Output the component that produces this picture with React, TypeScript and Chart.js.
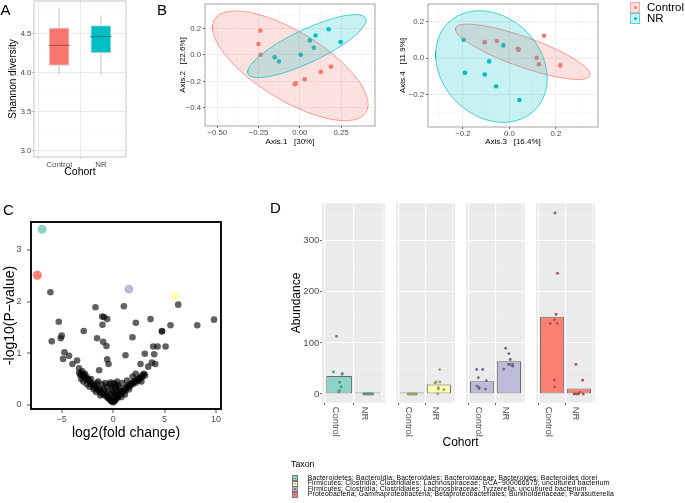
import React, { useEffect, useRef } from "react";
import { Chart, registerables } from "chart.js";

Chart.register(...registerables);

const FONT = '"Liberation Sans", Arial, Helvetica, sans-serif';
const GREY30 = "#4D4D4D";
Chart.defaults.font.family = FONT;
Chart.defaults.color = GREY30;

// ---------------- Panel A : Shannon diversity ----------------
const A_COHORTS = ["Control", "NR"];
const A_WHISKER_LOW = [3.98, 3.98];
const A_Q1 = [4.09, 4.25];
const A_MEDIAN = [4.35, 4.465];
const A_Q3 = [4.58, 4.61];
const A_WHISKER_HIGH = [4.83, 4.73];
const A_Y_MAJOR = [3.0, 3.5, 4.0, 4.5];
const A_Y_MINOR = [3.25, 3.75, 4.25, 4.75];
const A_FILL = ["#F8766D", "#00BFC4"];
const A_MEDIAN_COLOR = ["#B4524B", "#00888C"];

// ---------------- Panel B : PCoA ----------------
const B_GROUPS = ["Control", "NR"];
const B_COLORS = ["#F8766D", "#00BFC4"];
const B_FILLS = ["rgba(248,118,109,0.22)", "rgba(0,191,196,0.22)"];
const B1_CONTROL_X = [-0.238, -0.25, -0.238, -0.03, -0.024, 0.03, 0.128, 0.189];
const B1_CONTROL_Y = [0.184, 0.083, 0.002, -0.221, -0.214, -0.184, -0.128, -0.088];
const B1_NR_X = [-0.152, -0.126, 0.006, 0.061, 0.085, 0.096, 0.175, 0.248];
const B1_NR_Y = [-0.017, -0.049, 0.002, 0.11, 0.054, 0.147, 0.194, 0.098];
const B2_CONTROL_X = [0.149, -0.106, -0.054, 0.036, 0.117, 0.127, 0.219, 0.04];
const B2_CONTROL_Y = [0.123, 0.088, 0.094, 0.052, 0.002, -0.034, -0.04, 0.048];
const B2_NR_X = [-0.197, -0.026, 0.039, -0.087, -0.191, -0.106, -0.057, 0.043];
const B2_NR_Y = [0.101, 0.07, 0.047, -0.018, -0.081, -0.09, -0.155, -0.231];
const B1_X_MAJOR = [-0.5, -0.25, 0, 0.25];
const B1_X_MINOR = [-0.375, -0.125, 0.125, 0.375];
const B1_Y_MAJOR = [-0.4, -0.2, 0, 0.2];
const B1_Y_MINOR = [-0.5, -0.3, -0.1, 0.1, 0.3];
const B2_X_MAJOR = [-0.2, 0, 0.2];
const B2_X_MINOR = [-0.3, -0.1, 0.1, 0.3];
const B2_Y_MAJOR = [-0.2, 0, 0.2];
const B2_Y_MINOR = [-0.3, -0.1, 0.1];

// ---------------- Panel C : volcano ----------------
const C_UPPER_FC = [-6.1, -1.72, 1.04, 6.33, -5.29, -1.07, -0.88, -0.58, -1.04, 2.21,
  3.64, 5.58, 8.18, 9.81, -5.0, -5.1, -2.86, -5.97, -1.56, -0.97,
  -0.65, 1.88, 4.74, 4.76, 3.9, 4.32, 5.1, -4.74, -4.29, -4.87,
  1.2, 3.08, 3.99, -3.51, -0.58, -3.96, -0.45, 2.66, 3.77, 4.09,
  -3.31, -1.36, 3.41];
const C_UPPER_P = [2.18, 1.89, 1.91, 1.94, 1.61, 1.71, 1.7, 1.66, 1.55, 1.59,
  1.66, 1.54, 1.54, 1.65, 1.34, 1.29, 1.43, 1.23, 1.29, 1.22,
  1.14, 1.31, 1.43, 1.42, 1.13, 1.13, 1.13, 1.02, 0.95, 0.89,
  0.96, 0.99, 0.98, 0.86, 0.88, 0.79, 0.79, 0.79, 0.82, 0.79,
  0.71, 0.67, 0.74];
const C_LEFT_FC = [-3.3, -3.2, -3.05, -2.95, -2.85, -2.7, -2.6, -2.5, -2.4, -2.3,
  -2.2, -2.15, -2.0, -1.95, -1.8, -1.7, -1.6, -1.5, -1.4, -1.3,
  -1.2, -1.1, -1.0, -0.9, -0.8, -0.7, -0.6, -0.5, -0.4, -0.3,
  -0.2, -0.1, -2.55, -2.9, -3.1, -1.9, -2.3, -3.0, -2.75, -1.65,
  -1.25, -0.85, -0.45, -0.35, -0.25, -0.15, -0.6, -0.75, -0.2, -1.45,
  -1.05];
const C_LEFT_P = [0.62, 0.58, 0.6, 0.55, 0.57, 0.52, 0.55, 0.48, 0.5, 0.46,
  0.42, 0.5, 0.4, 0.36, 0.38, 0.33, 0.42, 0.3, 0.28, 0.32,
  0.25, 0.22, 0.27, 0.2, 0.18, 0.22, 0.15, 0.14, 0.12, 0.1,
  0.08, 0.06, 0.4, 0.45, 0.5, 0.3, 0.35, 0.65, 0.6, 0.25,
  0.18, 0.3, 0.25, 0.4, 0.43, 0.3, 0.35, 0.42, 0.2, 0.45,
  0.4];
const C_RIGHT_FC = [0.0, 0.1, 0.2, 0.3, 0.4, 0.5, 0.6, 0.7, 0.8, 0.9,
  1.0, 1.1, 1.2, 1.3, 1.4, 1.5, 1.6, 1.7, 1.8, 1.9,
  2.0, 2.1, 2.2, 2.3, 2.4, 2.5, 2.6, 2.7, 2.8, 2.9,
  3.0, 3.1, 0.15, 0.3, 0.45, 0.25, 0.05, 0.6, 0.9, 1.35,
  1.9, 2.2, 0.35, 0.55, 0.8, 1.15, 0.0, 0.1, -0.05, 0.2,
  0.4, 2.75, 1.55];
const C_RIGHT_P = [0.05, 0.07, 0.09, 0.12, 0.14, 0.16, 0.19, 0.22, 0.25, 0.23,
  0.27, 0.3, 0.28, 0.33, 0.35, 0.38, 0.36, 0.4, 0.42, 0.4,
  0.44, 0.46, 0.43, 0.48, 0.5, 0.47, 0.52, 0.55, 0.53, 0.58,
  0.6, 0.57, 0.2, 0.28, 0.38, 0.4, 0.42, 0.33, 0.42, 0.47,
  0.55, 0.6, 0.2, 0.27, 0.15, 0.2, 0.15, 0.25, 0.35, 0.33,
  0.45, 0.45, 0.3];
const C_HL_FC = [-6.92, -7.37, 1.53, 6.0];
const C_HL_P = [3.4, 2.51, 2.24, 2.1];
const C_HL_COLORS = ["#8DD3C7", "#FB8072", "#BEBADA", "#FFFFB3"];
const C_X_MAJOR = [-5, 0, 5, 10];
const C_Y_MAJOR = [0, 1, 2, 3];

// ---------------- Panel D : taxa abundance ----------------
const D_COHORTS = ["Control", "NR"];
const D_TAXA = [
  "Bacteroidetes; Bacteroidia; Bacteroidales; Bacteroidaceae; Bacteroides; Bacteroides dorei",
  "Firmicutes; Clostridia; Clostridiales; Lachnospiraceae; GCA\u2212900066575; uncultured bacterium",
  "Firmicutes; Clostridia; Clostridiales; Lachnospiraceae; Tyzzerella; uncultured bacterium",
  "Proteobacteria; Gammaproteobacteria; Betaproteobacteriales; Burkholderiaceae; Parasutterella",
];
const D_COLORS = ["#8DD3C7", "#FFFFB3", "#BEBADA", "#FB8072"];
const D_DOT_COLORS = ["#5F8F87", "#9E9C6E", "#6C6985", "#A9514B"];
const D_MEAN_CONTROL = [35, 0.3, 25, 151];
const D_MEAN_NR = [0.5, 18.5, 64, 11];
const D_CONTROL_VALUES = [
  [113, 43, 40, 38.6, 23, 14, 6.5, 4],
  [0, 0, 0, 0, 0, 0, 0, 0],
  [48, 48, 32, 26, 15.6, 13, 10.4, 9.7],
  [354, 236, 156, 145, 138, 138, 27, 14],
];
const D_CONTROL_JITTER = [
  [-0.09, -0.2, 0.11, 0.1, 0.02, 0.07, 0.01, -0.02],
  [-0.15, -0.1, -0.05, 0, 0.04, 0.08, 0.12, 0.16],
  [-0.2, 0.02, -0.14, 0.16, -0.19, -0.12, -0.11, 0.13],
  [0.11, 0.2, 0.15, 0.09, -0.07, 0.19, 0.09, 0.09],
];
const D_NR_VALUES = [
  [0, 0, 0, 0, 0, 0, 0, 0],
  [47.7, 23.5, 23.5, 21.6, 12.4, 9.8, 8.5, 0.5],
  [89.6, 79, 67.5, 57.8, 57.8, 57.8, 54.5, 48.7],
  [58, 27, 3, 0.5, 0, 0, 0, 0],
];
const D_NR_JITTER = [
  [-0.14, -0.09, -0.04, 0.01, 0.05, 0.09, 0.13, 0.17],
  [0.03, 0.04, -0.1, -0.15, -0.02, -0.02, 0.18, -0.04],
  [-0.12, 0, 0.05, -0.02, 0.05, 0.14, 0.14, -0.19],
  [-0.11, 0.14, 0.03, -0.15, -0.08, 0.16, -0.02, -0.18],
];
const D_Y_MAJOR = [0, 100, 200, 300];
const D_Y_MINOR = [50, 150, 250, 350];

// ---------------- helpers ----------------
const near = (arr: number[], v: number) => v !== undefined && arr.some((a) => Math.abs(a - v) < 1e-7);
const fmtNum = (v: number, d: number) => (v < -1e-9 ? "\u2212" : "") + Math.abs(v).toFixed(d);

const panelPlugin = {
  id: "panel",
  beforeDraw(chart: any, _a: any, opts: any) {
    if (!opts || !opts.bg) return;
    const { ctx, chartArea: a } = chart;
    ctx.save();
    ctx.fillStyle = opts.bg;
    ctx.fillRect(a.left, a.top, a.right - a.left, a.bottom - a.top);
    ctx.restore();
  },
  afterDatasetsDraw(chart: any, _a: any, opts: any) {
    if (!opts || !opts.border) return;
    const { ctx, chartArea: a } = chart;
    ctx.save();
    ctx.strokeStyle = opts.border;
    ctx.lineWidth = opts.borderWidth || 1;
    ctx.strokeRect(a.left, a.top, a.right - a.left, a.bottom - a.top);
    ctx.restore();
  },
};
Chart.register(panelPlugin);

function linAxis(o: any) {
  const minor: number[] = o.minor || [];
  const all = [...o.major, ...minor].sort((a, b) => a - b);
  const g = o.grid;
  return {
    type: "linear",
    min: o.min,
    max: o.max,
    offset: false,
    afterBuildTicks: (s: any) => {
      s.ticks = all.map((v) => ({ value: v }));
    },
    afterFit: (s: any) => {
      if (o.horizontal) s.height = o.fit;
      else s.width = o.fit;
      s.paddingLeft = 0;
      s.paddingRight = 0;
      s.paddingTop = 0;
      s.paddingBottom = 0;
    },
    ticks: {
      autoSkip: false,
      maxRotation: 0,
      minRotation: 0,
      padding: o.pad,
      color: GREY30,
      font: { size: o.fontSize, family: FONT },
      callback: (v: number) => (near(o.major, v) ? o.fmt(v) : ""),
    },
    grid: {
      drawOnChartArea: !!g,
      drawTicks: o.tickLen > 0,
      tickLength: o.tickLen,
      color: (c: any) => (g ? (near(o.major, c.tick && c.tick.value) ? g.major : g.minor) : "rgba(0,0,0,0)"),
      lineWidth: (c: any) => (g ? (near(o.major, c.tick && c.tick.value) ? g.majorW : g.minorW) : 0),
      tickColor: (c: any) => (near(o.major, c.tick && c.tick.value) ? o.tickColor || "#333333" : "rgba(0,0,0,0)"),
      tickWidth: 0.8,
    },
    border: { display: false },
    title: o.title
      ? { display: true, text: o.title.text, color: "#000", font: { size: o.title.size, family: FONT }, padding: o.title.pad }
      : { display: false },
  };
}

function base(pad: any, panel: any) {
  return {
    responsive: false,
    animation: false,
    devicePixelRatio: 1,
    events: [],
    layout: { padding: pad },
    plugins: { legend: { display: false }, tooltip: { enabled: false }, panel },
  };
}

function covTrob(xs: number[], ys: number[]) {
  const n = xs.length;
  const p = 2;
  const nu = 5;
  let w = xs.map(() => 1);
  let lx = xs.reduce((s, v) => s + v, 0) / n;
  let ly = ys.reduce((s, v) => s + v, 0) / n;
  let X = xs.map((v, i) => [v - lx, ys[i] - ly]);
  for (let iter = 0; iter < 25; iter++) {
    const w0 = w.slice();
    X = xs.map((v, i) => [v - lx, ys[i] - ly]);
    const sw = w.reduce((s, v) => s + v, 0);
    let a = 0, b = 0, c = 0;
    X.forEach(([dx, dy], i) => {
      a += (w[i] * dx * dx) / sw;
      b += (w[i] * dx * dy) / sw;
      c += (w[i] * dy * dy) / sw;
    });
    const det = a * c - b * b;
    const Q = X.map(([dx, dy]) => (c * dx * dx - 2 * b * dx * dy + a * dy * dy) / det);
    w = Q.map((q) => (nu + p) / (nu + q));
    const sw2 = w.reduce((s, v) => s + v, 0);
    lx = xs.reduce((s, v, i) => s + w[i] * v, 0) / sw2;
    ly = ys.reduce((s, v, i) => s + w[i] * v, 0) / sw2;
    if (w.every((v, i) => Math.abs(v - w0[i]) < 0.01)) break;
  }
  let a = 0, b = 0, c = 0;
  X.forEach(([dx, dy], i) => {
    a += w[i] * dx * dx;
    b += w[i] * dx * dy;
    c += w[i] * dy * dy;
  });
  return { cx: lx, cy: ly, sxx: a / n, sxy: b / n, syy: c / n };
}

function ellipse(xs: number[], ys: number[], level = 0.95, segments = 51) {
  const { cx, cy, sxx, sxy, syy } = covTrob(xs, ys);
  const dfd = xs.length - 1;
  const F = (dfd / 2) * (Math.pow(1 - level, -2 / dfd) - 1);
  const r = Math.sqrt(2 * F);
  const r11 = Math.sqrt(sxx);
  const r12 = sxy / r11;
  const r22 = Math.sqrt(Math.max(syy - r12 * r12, 0));
  const pts: any[] = [];
  for (let k = 0; k <= segments; k++) {
    const t = (k * 2 * Math.PI) / segments;
    const u = Math.cos(t);
    const v = Math.sin(t);
    pts.push({ x: cx + r * u * r11, y: cy + r * (u * r12 + v * r22) });
  }
  return pts;
}

// ---------------- chart configs ----------------
const LIGHT_GRID = { major: "#E6E6E6", minor: "#F3F3F3", majorW: 0.8, minorW: 0.5 };

function makeA() {
  const whiskers = A_COHORTS.map((_, i) => ({
    type: "line",
    data: [
      { x: i + 1, y: A_WHISKER_LOW[i] },
      { x: i + 1, y: A_Q1[i] },
      { x: i + 1, y: null },
      { x: i + 1, y: A_Q3[i] },
      { x: i + 1, y: A_WHISKER_HIGH[i] },
    ],
    borderColor: "#C2C2C2",
    borderWidth: 1,
    pointRadius: 0,
    spanGaps: false,
    order: 3,
  }));
  const medians = A_COHORTS.map((_, i) => ({
    type: "line",
    data: [
      { x: i + 1 - 0.25, y: A_MEDIAN[i] },
      { x: i + 1 + 0.25, y: A_MEDIAN[i] },
    ],
    borderColor: A_MEDIAN_COLOR[i],
    borderWidth: 1.1,
    pointRadius: 0,
    order: 1,
  }));
  return {
    type: "bar",
    data: {
      datasets: [
        ...whiskers,
        {
          type: "bar",
          data: A_COHORTS.map((_, i) => ({ x: i + 1, y: [A_Q1[i], A_Q3[i]] })),
          backgroundColor: A_FILL,
          borderColor: "#CFCFCF",
          borderWidth: 1,
          borderSkipped: false,
          barPercentage: 0.5,
          categoryPercentage: 1,
          order: 2,
        },
        ...medians,
      ],
    },
    options: {
      ...base({ left: 0, top: 1, right: 4, bottom: 0 }, { border: "#B8B8B8", borderWidth: 0.8 }),
      scales: {
        x: linAxis({
          min: 0.4, max: 2.6, major: [1, 2], fmt: (v: number) => A_COHORTS[Math.round(v) - 1],
          fontSize: 8, tickLen: 2, pad: 1, fit: 25, horizontal: true, grid: LIGHT_GRID, tickColor: "#B3B3B3",
          title: { text: "Cohort", size: 10.5, pad: { top: 0, bottom: 3.7 } },
        }),
        y: linAxis({
          min: 2.92, max: 4.92, major: A_Y_MAJOR, minor: A_Y_MINOR, fmt: (v: number) => v.toFixed(1),
          fontSize: 8, tickLen: 2, pad: 0.5, fit: 34, horizontal: false, grid: LIGHT_GRID, tickColor: "#B3B3B3",
          title: { text: "Shannon diversity", size: 10, pad: { top: 7, bottom: 0 } },
        }),
      },
    },
  };
}

function makePcoa(
  cx: number[], cy: number[], nx: number[], ny: number[],
  xr: any, yr: any, layout: any, titles: [string, string]
) {
  const pts = (xs: number[], ys: number[]) => xs.map((v, i) => ({ x: v, y: ys[i] }));
  return {
    type: "scatter",
    data: {
      datasets: [
        { type: "scatter", data: pts(cx, cy), backgroundColor: B_COLORS[0], pointRadius: 2.3, borderWidth: 0, order: 3 },
        { type: "scatter", data: pts(nx, ny), backgroundColor: B_COLORS[1], pointRadius: 2.3, borderWidth: 0, order: 3 },
        {
          type: "line", data: ellipse(cx, cy), borderColor: B_COLORS[0], borderWidth: 0.7,
          backgroundColor: B_FILLS[0], fill: "shape", pointRadius: 0, tension: 0, order: 1,
        },
        {
          type: "line", data: ellipse(nx, ny), borderColor: B_COLORS[1], borderWidth: 0.7,
          backgroundColor: B_FILLS[1], fill: "shape", pointRadius: 0, tension: 0, order: 0,
        },
      ],
    },
    options: {
      ...base({ left: 0, top: 1, right: layout.right, bottom: 0 }, { border: "#8F8F8F", borderWidth: 0.8 }),
      scales: {
        x: linAxis({
          ...xr, fontSize: 7.8, tickLen: 2, pad: 0, fit: layout.xh, horizontal: true,
          grid: { major: "#E8E8E8", minor: "#F4F4F4", majorW: 0.7, minorW: 0.5 }, tickColor: "#333333",
          title: { text: titles[0], size: 8, pad: { top: 0, bottom: layout.xtb } },
        }),
        y: linAxis({
          ...yr, fontSize: 7.8, tickLen: 2, pad: 2, fit: layout.yw, horizontal: false,
          grid: { major: "#E8E8E8", minor: "#F4F4F4", majorW: 0.7, minorW: 0.5 }, tickColor: "#333333",
          title: { text: titles[1], size: 8, pad: { top: layout.ytt, bottom: 0 } },
        }),
      },
    },
  };
}

function makeC() {
  const fc = [...C_UPPER_FC, ...C_LEFT_FC, ...C_RIGHT_FC];
  const pv = [...C_UPPER_P, ...C_LEFT_P, ...C_RIGHT_P];
  return {
    type: "scatter",
    data: {
      datasets: [
        {
          data: fc.map((v, i) => ({ x: v, y: pv[i] })),
          backgroundColor: "rgba(0,0,0,0.62)", pointRadius: 3.3, borderWidth: 0, order: 2,
        },
        {
          data: C_HL_FC.map((v, i) => ({ x: v, y: C_HL_P[i] })),
          backgroundColor: C_HL_COLORS, pointRadius: 4.5, borderWidth: 0, order: 1,
        },
      ],
    },
    options: {
      ...base({ left: 0, top: 8, right: 7, bottom: 0 }, { border: "#111111", borderWidth: 2 }),
      scales: {
        x: linAxis({
          min: -7.99, max: 10.49, major: C_X_MAJOR, fmt: (v: number) => fmtNum(v, 0),
          fontSize: 9, tickLen: 4, pad: 1, fit: 37, horizontal: true, grid: null, tickColor: "#222222",
          title: { text: "log2(fold change)", size: 14, pad: { top: 0, bottom: 4.6 } },
        }),
        y: linAxis({
          min: -0.08, max: 3.54, major: C_Y_MAJOR, fmt: (v: number) => fmtNum(v, 0),
          fontSize: 9, tickLen: 4, pad: 5.5, fit: 31, horizontal: false, grid: null, tickColor: "#222222",
          title: { text: "-log10(P\u2212value)", size: 14, pad: { top: 1.6, bottom: 0 } },
        }),
      },
    },
  };
}

const rotatedLabels = {
  id: "rotLabels",
  afterDraw(chart: any) {
    const { ctx, chartArea, scales } = chart;
    ctx.save();
    ctx.font = `9.4px ${FONT}`;
    ctx.fillStyle = GREY30;
    ctx.textAlign = "left";
    ctx.textBaseline = "middle";
    D_COHORTS.forEach((lab, i) => {
      const x = scales.x.getPixelForValue(i + 1) - 3.5;
      ctx.save();
      ctx.translate(x, chartArea.bottom + 4);
      ctx.rotate(Math.PI / 2);
      ctx.fillText(lab, 0, 0);
      ctx.restore();
    });
    ctx.restore();
  },
};

function makeFacet(k: number) {
  const first = k === 0;
  const ctrl = D_CONTROL_VALUES[k].map((v, i) => ({ x: 1 + D_CONTROL_JITTER[k][i], y: v }));
  const nr = D_NR_VALUES[k].map((v, i) => ({ x: 2 + D_NR_JITTER[k][i], y: v }));
  const grid = { major: "#FFFFFF", minor: "#F7F7F7", majorW: 1.1, minorW: 0.5 };
  return {
    type: "bar",
    data: {
      datasets: [
        {
          type: "bar",
          data: [
            { x: 1, y: D_MEAN_CONTROL[k] },
            { x: 2, y: D_MEAN_NR[k] },
          ],
          backgroundColor: D_COLORS[k],
          borderColor: "#6B6B6B",
          borderWidth: 1,
          borderSkipped: false,
          minBarLength: 1.5,
          barPercentage: 0.9,
          categoryPercentage: 1,
          order: 2,
        },
        {
          type: "scatter",
          data: [...ctrl, ...nr],
          backgroundColor: D_DOT_COLORS[k],
          pointRadius: 1.4,
          borderWidth: 0,
          order: 1,
        },
      ],
    },
    options: {
      ...base({ left: 0, top: 8.3, right: 0, bottom: 0 }, { bg: "#EBEBEB" }),
      scales: {
        x: linAxis({
          min: 0.4, max: 2.6, major: [1, 2], fmt: () => "", fontSize: 6, tickLen: 2.5, pad: 0,
          fit: 37.3, horizontal: true, grid: { ...grid, minor: "#FFFFFF" }, tickColor: "#333333",
        }),
        y: linAxis({
          min: -17, max: 373, major: D_Y_MAJOR, minor: D_Y_MINOR,
          fmt: first ? (v: number) => String(v) : () => "",
          fontSize: 9.6, tickLen: first ? 2 : 0, pad: 0.7, fit: first ? 62 : 0, horizontal: false,
          grid, tickColor: "#333333",
          title: first ? { text: "Abundance", size: 12, pad: { top: 29.5, bottom: 0 } } : undefined,
        }),
      },
    },
    plugins: [rotatedLabels],
  };
}

// ---------------- components ----------------
function ChartCanvas({ x, y, w, h, make }: { x: number; y: number; w: number; h: number; make: () => any }) {
  const ref = useRef<HTMLCanvasElement | null>(null);
  useEffect(() => {
    if (!ref.current) return;
    const chart = new Chart(ref.current, make());
    return () => chart.destroy();
  }, []);
  return (
    <canvas
      ref={ref}
      width={w}
      height={h}
      style={{ position: "absolute", left: x, top: y, width: w, height: h }}
    />
  );
}

function T({ x, y, size, text, color = "#000", center = false, spacing = 0 }: any) {
  return (
    <div
      style={{
        position: "absolute",
        left: x,
        top: y,
        fontSize: size,
        lineHeight: `${size}px`,
        letterSpacing: spacing,
        color,
        whiteSpace: "pre",
        fontFamily: FONT,
        transform: `translate(${center ? "-50%" : "0"}, -50%)`,
      }}
    >
      {text}
    </div>
  );
}

export default function App() {
  return (
    <div
      style={{
        position: "absolute",
        left: 0,
        top: 0,
        width: 685,
        height: 503,
        background: "#FFFFFF",
        overflow: "hidden",
        fontFamily: FONT,
      }}
    >
      <ChartCanvas x={0} y={0} w={130} h={182} make={makeA} />
      <ChartCanvas
        x={160} y={0} w={222} h={150}
        make={() =>
          makePcoa(
            B1_CONTROL_X, B1_CONTROL_Y, B1_NR_X, B1_NR_Y,
            { min: -0.574, max: 0.456, major: B1_X_MAJOR, minor: B1_X_MINOR, fmt: (v: number) => fmtNum(v, 2) },
            { min: -0.537, max: 0.385, major: B1_Y_MAJOR, minor: B1_Y_MINOR, fmt: (v: number) => fmtNum(v, 1) },
            { right: 7, xh: 24, yw: 45, xtb: 3.5, ytt: 17.9 },
            ["Axis.1   [30%]", "Axis.2   [22.6%]"]
          )
        }
      />
      <ChartCanvas
        x={390} y={0} w={212} h={150}
        make={() =>
          makePcoa(
            B2_CONTROL_X, B2_CONTROL_Y, B2_NR_X, B2_NR_Y,
            { min: -0.35, max: 0.381, major: B2_X_MAJOR, minor: B2_X_MINOR, fmt: (v: number) => fmtNum(v, 1) },
            { min: -0.379, max: 0.298, major: B2_Y_MAJOR, minor: B2_Y_MINOR, fmt: (v: number) => fmtNum(v, 1) },
            { right: 4, xh: 23, yw: 38, xtb: 3.2, ytt: 7.9 },
            ["Axis.3   [16.4%]", "Axis.4   [11.9%]"]
          )
        }
      />
      <ChartCanvas x={0} y={214} w={228} h={232} make={makeC} />
      <ChartCanvas x={260} y={195} w={129} h={245} make={() => makeFacet(0)} />
      <ChartCanvas x={392} y={195} w={67} h={245} make={() => makeFacet(1)} />
      <ChartCanvas x={462} y={195} w={67} h={245} make={() => makeFacet(2)} />
      <ChartCanvas x={532} y={195} w={67} h={245} make={() => makeFacet(3)} />

      {/* panel letters */}
      <T x={0.5} y={8.5} size={15} text="A" />
      <T x={157} y={8.5} size={15} text="B" />
      <T x={3} y={208.5} size={15} text="C" />
      <T x={270} y={206.5} size={15} text="D" />

      {/* B legend */}
      {B_GROUPS.map((g, i) => (
        <React.Fragment key={g}>
          <div
            style={{
              position: "absolute",
              left: 630,
              top: 2 + i * 10.8,
              width: 8,
              height: 9,
              background: B_FILLS[i],
              border: `1px solid ${i === 0 ? "rgba(248,118,109,0.55)" : "rgba(0,191,196,0.55)"}`,
            }}
          >
            <div
              style={{
                position: "absolute",
                left: 2.5,
                top: 3,
                width: 3,
                height: 3,
                borderRadius: "50%",
                background: B_COLORS[i],
              }}
            />
          </div>
          <T x={647} y={7.5 + i * 11} size={11.5} text={g} />
        </React.Fragment>
      ))}

      {/* D x title and legend */}
      <T x={460.5} y={441.5} size={12} text="Cohort" center />
      <T x={291} y={463.5} size={8.8} text="Taxon" />
      {D_TAXA.map((t, i) => (
        <React.Fragment key={t}>
          <div
            style={{
              position: "absolute",
              left: 292,
              top: 475.2 + i * 5.45,
              width: 4,
              height: 4.2,
              background: D_COLORS[i],
              border: "0.6px solid #777777",
            }}
          >
            <div
              style={{
                position: "absolute",
                left: 1.3,
                top: 1.4,
                width: 1.4,
                height: 1.4,
                borderRadius: "50%",
                background: D_DOT_COLORS[i],
              }}
            />
          </div>
          <T x={307.7} y={477.7 + i * 5.45} size={6.8} spacing={0.2} text={t} />
        </React.Fragment>
      ))}
    </div>
  );
}
